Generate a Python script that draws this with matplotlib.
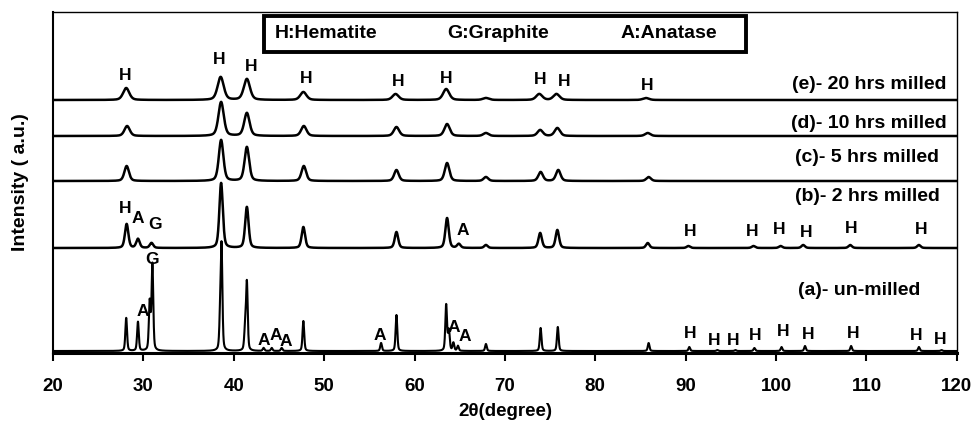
import numpy as np
import matplotlib
matplotlib.use("Agg")
import matplotlib.pyplot as plt

plt.rcParams['font.family'] = ['Liberation Sans', 'DejaVu Sans']
plt.rcParams['font.weight'] = 'bold'

# ---------------- data ----------------
# peak lists: position (2theta, deg), height (a.u.), and a common width per pattern
a_pos = [28.1, 29.4, 30.7, 31.0, 38.5, 38.65, 41.25, 41.45, 43.3, 44.2, 45.3, 47.7, 56.3, 58.0,
         63.5, 63.8, 64.3, 64.8, 67.9, 73.95, 75.85, 85.9, 90.4, 93.5, 95.5, 97.6, 100.6,
         103.2, 108.3, 115.8, 118.3]
a_h = [33, 29, 48, 86, 30, 100, 20, 68, 3, 3, 3, 30, 8, 36,
       46, 20, 8, 5, 7, 23, 24, 8, 4, 1, 1, 3, 4, 5, 5, 4, 1]

b_pos = [28.15, 29.4, 30.9, 38.6, 41.45, 47.7, 58.0, 63.6, 64.9, 67.9, 73.9, 75.8, 85.8,
         90.3, 97.5, 100.5, 103.0, 108.2, 115.8]
b_h = [24, 9, 5, 65, 41, 21, 16, 30, 4, 3, 15, 18, 5, 2, 2, 2, 3, 3, 3]

c_pos = [28.15, 38.6, 41.45, 47.75, 58.0, 63.6, 67.9, 73.95, 75.9, 85.9]
c_h = [15, 41, 34, 15, 11, 18, 4, 9, 11, 4]

d_pos = [28.2, 38.6, 41.45, 47.75, 58.0, 63.6, 67.9, 73.9, 75.8, 85.8]
d_h = [10, 34, 23, 10, 9, 12, 3, 6, 8, 3]

e_pos = [28.1, 38.55, 41.45, 47.7, 57.9, 63.5, 67.9, 73.8, 75.7, 85.6]
e_h = [12, 23, 21, 8, 6, 11, 2, 6, 6, 2]

fwhm = {'a': 0.22, 'b': 0.45, 'c': 0.6, 'd': 0.7, 'e': 0.8}
offsets = {'a': 2, 'b': 105, 'c': 172, 'd': 217, 'e': 253}

series_labels = ['(e)- 20 hrs milled', '(d)- 10 hrs milled', '(c)- 5 hrs milled',
                 '(b)- 2 hrs milled', '(a)- un-milled']
series_label_y = [269, 230, 196, 157, 63]
series_label_x = [118.9, 118.9, 118.0, 118.1, 116.0]

# phase marks: (2theta, y, letter)
marks = [
    # pattern e
    (28.0, 278, 'H'), (38.4, 293, 'H'), (41.9, 287, 'H'), (48.0, 275, 'H'),
    (58.2, 272, 'H'), (63.5, 275, 'H'), (73.9, 274, 'H'), (76.6, 272, 'H'), (85.7, 268, 'H'),
    # pattern b
    (28.0, 145, 'H'), (29.4, 135, 'A'), (31.3, 129, 'G'), (65.3, 123, 'A'),
    (90.5, 122, 'H'), (97.4, 122, 'H'), (100.3, 124, 'H'), (103.3, 121, 'H'),
    (108.3, 125, 'H'), (116.1, 124, 'H'),
    # pattern a
    (30.95, 94, 'G'), (29.9, 42, 'A'), (43.3, 13, 'A'), (44.6, 18, 'A'), (45.8, 12, 'A'),
    (56.2, 18, 'A'), (64.3, 26, 'A'), (65.6, 17, 'A'),
    (90.5, 20, 'H'), (93.1, 13, 'H'), (95.3, 13, 'H'), (97.7, 18, 'H'), (100.8, 22, 'H'),
    (103.5, 19, 'H'), (108.5, 20, 'H'), (115.5, 18, 'H'), (118.1, 14, 'H'),
]

legend_items = ['H:Hematite', 'G:Graphite', 'A:Anatase']
legend_x = [44.5, 63.6, 82.8]

# ---------------- build profiles ----------------
tt = np.arange(20.0, 120.0001, 0.01)


def profile(pos, h, w):
    y = np.zeros_like(tt)
    hw = w / 2.0
    for p, a in zip(pos, h):
        g = np.exp(-np.log(2) * ((tt - p) / hw) ** 2)
        l = 1.0 / (1.0 + ((tt - p) / hw) ** 2)
        y += a * (0.6 * g + 0.4 * l)
    return y


pats = {'a': (a_pos, a_h), 'b': (b_pos, b_h), 'c': (c_pos, c_h), 'd': (d_pos, d_h), 'e': (e_pos, e_h)}

fig = plt.figure(figsize=(9.74, 4.21), dpi=100)
ax = fig.add_axes([0.0544, 0.1615, 0.928, 0.81])

for k in ['a', 'b', 'c', 'd', 'e']:
    pos, h = pats[k]
    ax.plot(tt, offsets[k] + profile(pos, h, fwhm[k]), color='black', lw=1.8 if k != 'a' else 1.5,
            solid_joinstyle='round')

ax.set_xlim(20, 120)
ax.set_ylim(0, 341)
ax.set_xticks(np.arange(20, 121, 10))
ax.set_yticks([])
ax.tick_params(axis='x', direction='out', length=6, width=1.5, labelsize=13.5, pad=12)
for lab in ax.get_xticklabels():
    lab.set_fontweight('bold')
for s in ['top', 'right']:
    ax.spines[s].set_linewidth(1.0)
ax.spines['left'].set_linewidth(1.5)
ax.spines['bottom'].set_linewidth(2.2)

ax.set_xlabel('2θ(degree)', fontsize=13.5, fontweight='bold', labelpad=6)
ax.set_ylabel('Intensity ( a.u.)', fontsize=14, fontweight='bold', labelpad=17)

for x, y, t in marks:
    ax.text(x, y, t, fontsize=12.5, fontweight='bold', ha='center', va='center')

for t, x, y in zip(series_labels, series_label_x, series_label_y):
    ax.text(x, y, t, fontsize=14, fontweight='bold', ha='right', va='center')

# legend box
ax.add_patch(plt.Rectangle((43.4, 301), 53.3, 36, transform=ax.transData, fill=False,
                           lw=2.8, edgecolor='black', clip_on=False))
for t, x in zip(legend_items, legend_x):
    ax.text(x, 319, t, fontsize=14, fontweight='bold', ha='left', va='center')

fig.savefig('out.png', dpi=100)
